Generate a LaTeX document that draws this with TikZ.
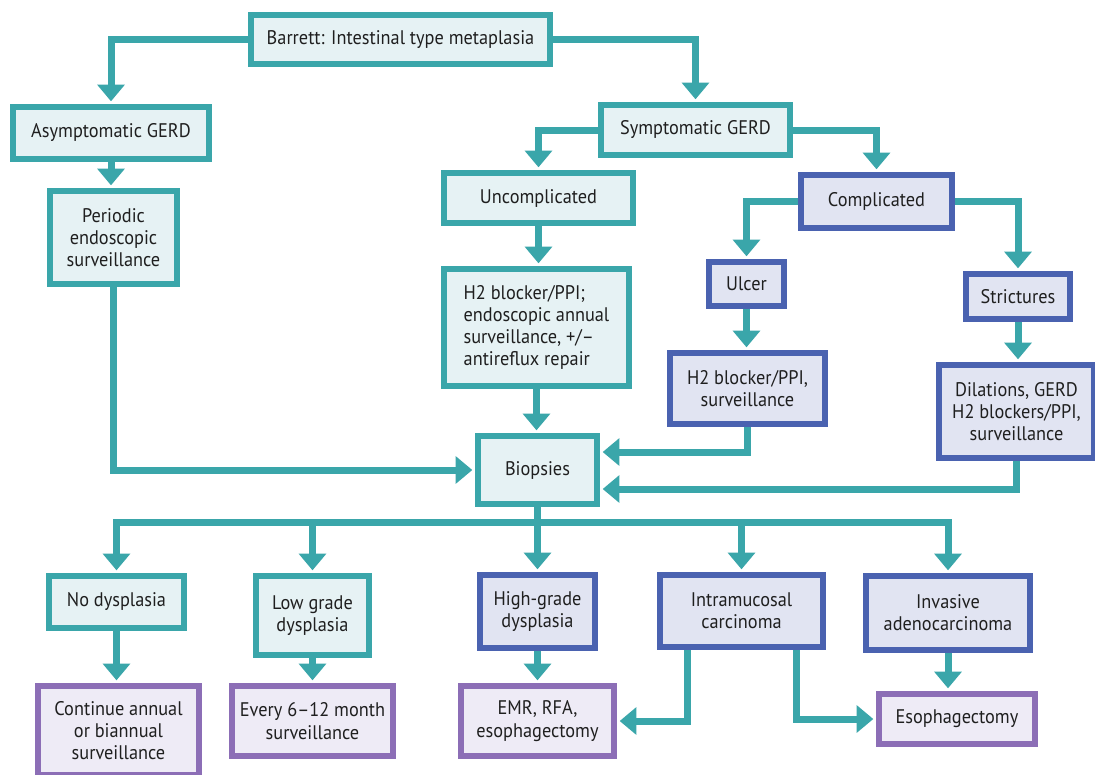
\documentclass[tikz,border=0pt]{standalone}
\usepackage{fontspec}
\setmainfont{PT Sans}[FakeStretch=0.93]
\usetikzlibrary{arrows.meta,calc}
\definecolor{tealc}{RGB}{58,166,170}
\definecolor{tealfill}{RGB}{230,242,244}
\definecolor{bluec}{RGB}{74,98,176}
\definecolor{bluefill}{RGB}{225,228,242}
\definecolor{purplec}{RGB}{140,110,182}
\definecolor{purplefill}{RGB}{238,235,246}
\tikzset{
  line/.style={draw=tealc,line width=0.21cm},
  arr/.style={line,-{Triangle[width=0.8cm,length=0.5cm]},shorten >=0.08cm},
  box/.style={rectangle,line width=0.18cm,inner sep=0pt,align=center,
    font=\fontsize{16.8}{19}\selectfont,text=black!88},
  tbox/.style={box,draw=tealc,fill=tealfill},
  bbox/.style={box,draw=bluec,fill=bluefill},
  pbox/.style={box,draw=purplec,fill=purplefill},
  sz/.style 2 args={minimum width={(#1-6)*0.03cm},minimum height={(#2-6)*0.03cm}}
}
\begin{document}
\begin{tikzpicture}[x=0.03cm,y=-0.03cm]
\fill[white] (0,0) rectangle (1095,774);
\useasboundingbox (0,0) rectangle (1095,774);

% top levels
\node[tbox,sz={305}{55}] (barrett) at (400.5,39.5) {Barrett: Intestinal type metaplasia};
\node[tbox,sz={202}{58}] (asym) at (111,133) {Asymptomatic GERD};
\node[tbox,sz={133}{99}] (periodic) at (113.5,237.5) {Periodic\\endoscopic\\surveillance};
\node[tbox,sz={195}{56}] (symp) at (695.5,130) {Symptomatic GERD};
\node[tbox,sz={195}{56}] (uncomp) at (538.5,198) {Uncomplicated};
\node[bbox,sz={157}{59}] (comp) at (876.5,201.5) {Complicated};
\node[tbox,sz={191}{123},align=left] (h2a) at (536.5,327.5) {H2 blocker/PPI;\\endoscopic annual\\surveillance, +/–\\antireflux repair};
\node[bbox,sz={81}{50}] (ulcer) at (746.5,284) {Ulcer};
\node[bbox,sz={110}{51}] (strict) at (1018,296.5) {Strictures};
\node[bbox,sz={161}{77}] (h2b) at (747.5,388.5) {H2 blocker/PPI,\\surveillance};
\node[bbox,sz={161}{99}] (dil) at (1016.5,411.5) {Dilations, GERD\\H2 blockers/PPI,\\surveillance};
\node[tbox,sz={125}{74}] (biopsies) at (537.5,470) {Biopsies};

% histology
\node[tbox,sz={141}{58}] (nodys) at (116.5,602) {No dysplasia};
\node[tbox,sz={119}{85}] (lowgrade) at (312.5,615.5) {Low grade\\dysplasia};
\node[bbox,sz={121}{79}] (highgrade) at (537.5,611.5) {High-grade\\dysplasia};
\node[bbox,sz={169}{78}] (intramuc) at (741.5,611) {Intramucosal\\carcinoma};
\node[bbox,sz={170}{80}] (invasive) at (948,613) {Invasive\\adenocarcinoma};

% management
\node[pbox,sz={167}{95}] (continue) at (118.5,730.5) {Continue annual\\or biannual\\surveillance};
\node[pbox,sz={167}{76}] (every) at (312.5,721) {Every 6–12 month\\surveillance};
\node[pbox,sz={159}{76}] (emr) at (537.5,721) {EMR, RFA,\\esophagectomy};
\node[pbox,sz={162}{56}] (esoph) at (957,719) {Esophagectomy};

% connectors
\draw[arr] (barrett.west) -| (asym.north);
\draw[arr] (barrett.east) -| (symp.north);
\draw[arr] (asym.south) -- (asym.south |- periodic.north);
\draw[arr] (symp.west) -| (uncomp.north);
\draw[arr] (symp.east) -| (comp.north);
\draw[arr] (uncomp.south) -- (uncomp.south |- h2a.north);
\draw[arr] (comp.west) -| (ulcer.north);
\draw[arr] (comp.east) -| (strict.north);
\draw[arr] (ulcer.south) -- (ulcer.south |- h2b.north);
\draw[arr] (strict.south) -- (strict.south |- dil.north);
\draw[arr] (periodic.south) |- (biopsies.west);
\draw[arr] (h2a.south) -- (h2a.south |- biopsies.north);
\draw[arr] (h2b.south) |- ($(biopsies.east)+(0,-18)$);
\draw[arr] (dil.south) |- ($(biopsies.east)+(0,19)$);

\coordinate (bus) at (537.5,522);
\draw[line] (biopsies.south) -- (bus);
\draw[arr] (bus) -| (nodys.north);
\draw[arr] (bus) -| (invasive.north);
\draw[arr] (bus) -- (highgrade.north);
\draw[arr] (lowgrade.north |- bus) -- (lowgrade.north);
\draw[arr] (intramuc.north |- bus) -- (intramuc.north);

\draw[arr] (nodys.south) -- (nodys.south |- continue.north);
\draw[arr] (lowgrade.south) -- (lowgrade.south |- every.north);
\draw[arr] (highgrade.south) -- (highgrade.south |- emr.north);
\draw[arr] (invasive.south) -- (invasive.south |- esoph.north);
\draw[arr] ($(intramuc.south)+(-54.5,0)$) |- (emr.east);
\draw[arr] ($(intramuc.south)+(54.5,0)$) |- (esoph.west);
\end{tikzpicture}
\end{document}
